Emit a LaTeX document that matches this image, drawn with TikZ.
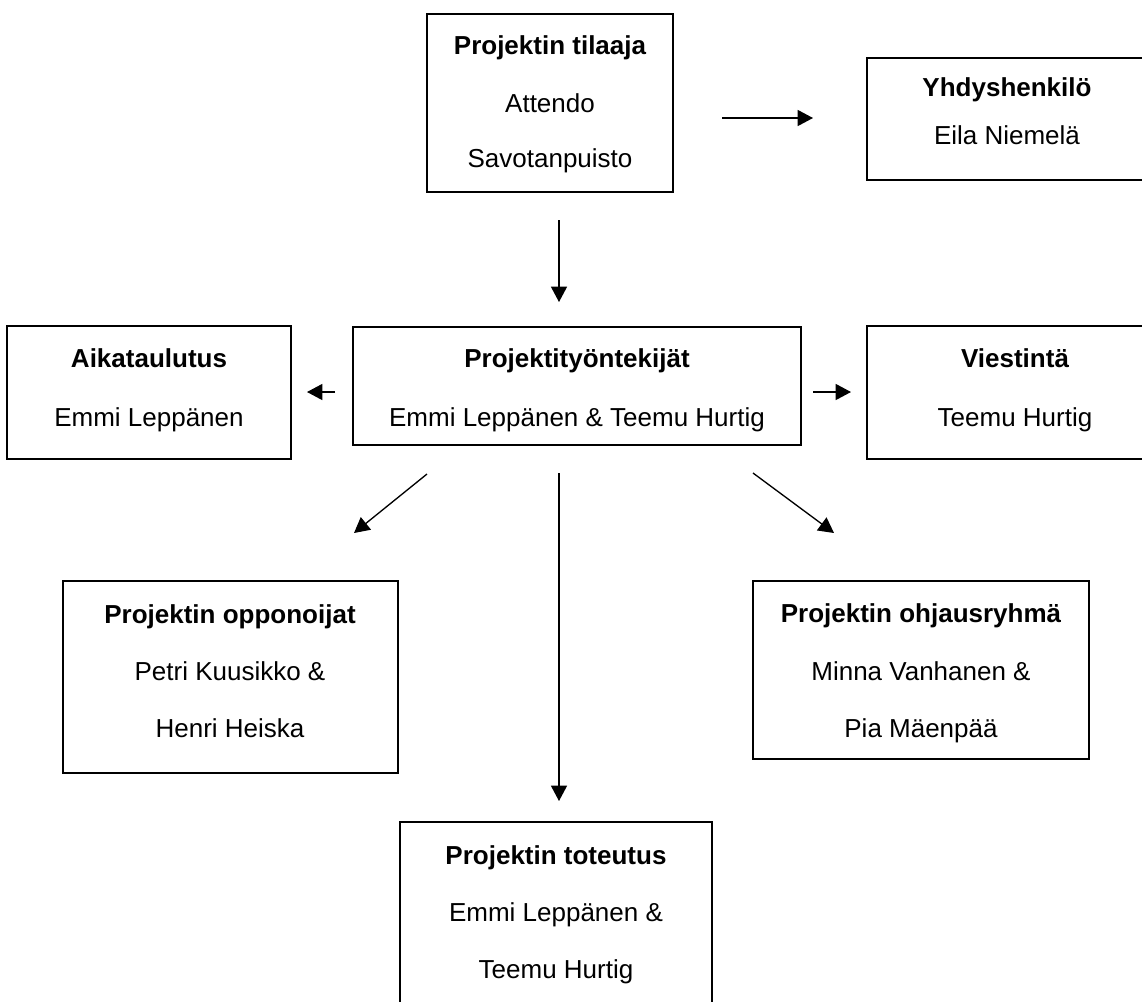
\documentclass[tikz,border=0pt]{standalone}
\usepackage{fontspec}
\setmainfont{Liberation Sans}
\usetikzlibrary{arrows.meta,fit}
\begin{document}
\begin{tikzpicture}[x=0.75pt,y=-0.75pt,
  box/.style={draw=black,line width=1pt,inner sep=0pt,outer sep=0pt,rectangle},
  hd/.style={anchor=base,inner sep=0pt,font=\fontsize{19.5pt}{23pt}\selectfont\bfseries},
  tx/.style={anchor=base,inner sep=0pt,font=\fontsize{19.5pt}{23pt}\selectfont},
  arr/.style={line width=1pt,-{Triangle[length=11.5pt,width=12pt]}}]
\clip (0,0) rectangle (1142,1001);
\fill[white] (0,0) rectangle (1142,1001);
% boxes
\node[box,fit={(427,14) (673,192)}] (tilaaja) {};
\node[box,fit={(867,58) (1147,180)}] (yhd) {};
\node[box,fit={(7,326) (291,459)}] (aika) {};
\node[box,fit={(353,327) (801,445)}] (prj) {};
\node[box,fit={(867,326) (1163,459)}] (vies) {};
\node[box,fit={(63,581) (398,773)}] (opp) {};
\node[box,fit={(753,581) (1089,759)}] (ohj) {};
\node[box,fit={(400,822) (712,1010)}] (tot) {};
% texts
\node[hd] (tilaaja-1) at (550,54) {Projektin tilaaja};
\node[tx] (tilaaja-2) at (550,112) {Attendo};
\node[tx] (tilaaja-3) at (550,167) {Savotanpuisto};
\node[hd] (yhd-1) at (1007,96) {Yhdyshenkilö};
\node[tx] (yhd-2) at (1007,144) {Eila Niemelä};
\node[hd] (aika-1) at (149,367) {Aikataulutus};
\node[tx] (aika-2) at (149,426) {Emmi Leppänen};
\node[hd] (prj-1) at (577,367) {Projektityöntekijät};
\node[tx] (prj-2) at (577,426) {Emmi Leppänen \& Teemu Hurtig};
\node[hd] (vies-1) at (1015,367) {Viestintä};
\node[tx] (vies-2) at (1015,426) {Teemu Hurtig};
\node[hd] (opp-1) at (230,623) {Projektin opponoijat};
\node[tx] (opp-2) at (230,680) {Petri Kuusikko \&};
\node[tx] (opp-3) at (230,737) {Henri Heiska};
\node[hd] (ohj-1) at (921,622) {Projektin ohjausryhmä};
\node[tx] (ohj-2) at (921,680) {Minna Vanhanen \&};
\node[tx] (ohj-3) at (921,737) {Pia Mäenpää};
\node[hd] (tot-1) at (556,864) {Projektin toteutus};
\node[tx] (tot-2) at (556,921) {Emmi Leppänen \&};
\node[tx] (tot-3) at (556,978) {Teemu Hurtig};
% arrow end points
\coordinate (a1s) at (722,118); \coordinate (a1e) at (813,118);
\coordinate (a2s) at (559,220); \coordinate (a2e) at (559,302);
\coordinate (a3s) at (335,392); \coordinate (a3e) at (307,392);
\coordinate (a4s) at (813,392); \coordinate (a4e) at (851,392);
\coordinate (a5s) at (427,474); \coordinate (a5e) at (354,533);
\coordinate (a6s) at (753,473); \coordinate (a6e) at (834,533);
\coordinate (a7s) at (559,473); \coordinate (a7e) at (559,801);
\foreach \i in {1,...,7} {\draw[arr] (a\i s) -- (a\i e);}
\end{tikzpicture}
\end{document}
